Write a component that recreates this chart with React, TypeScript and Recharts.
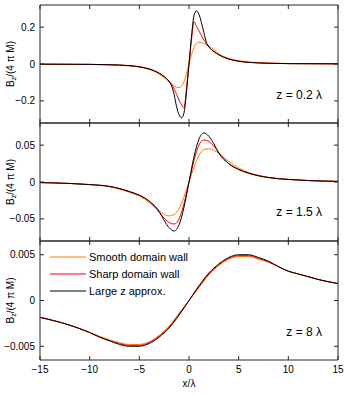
import React from 'react';
import { LineChart, Line, XAxis, YAxis } from 'recharts';

// x/λ ticks shared by all three panels
const X_TICKS = [-15, -10, -5, 0, 5, 10, 15];

// panel 1: z = 0.2 λ
const x1 = [-15, -12, -10, -8, -6, -5, -4, -3, -2.5, -2, -1.75, -1.5, -1.25, -1, -0.75, -0.5, -0.25, 0, 0.25, 0.5, 0.75, 1, 1.25, 1.5, 1.75, 2, 2.5, 3, 4, 5, 6, 8, 10, 12, 15];
const smooth1 = [-0.001, -0.0017, -0.0025, -0.005, -0.01, -0.017, -0.03, -0.055, -0.075, -0.098, -0.11, -0.12, -0.126, -0.128, -0.12, -0.095, -0.052, 0, 0.05, 0.09, 0.112, 0.118, 0.116, 0.112, 0.105, 0.098, 0.078, 0.056, 0.031, 0.018, 0.011, 0.005, 0.0025, 0.0017, 0.001];
const sharp1 = [-0.001, -0.0015, -0.002, -0.004, -0.009, -0.015, -0.027, -0.05, -0.068, -0.093, -0.11, -0.135, -0.165, -0.195, -0.222, -0.238, -0.13, 0, 0.13, 0.23, 0.205, 0.18, 0.155, 0.13, 0.11, 0.093, 0.068, 0.05, 0.027, 0.015, 0.009, 0.004, 0.002, 0.0015, 0.001];
const approx1 = [-0.001, -0.0015, -0.002, -0.004, -0.009, -0.015, -0.027, -0.05, -0.068, -0.095, -0.12, -0.165, -0.232, -0.275, -0.292, -0.265, -0.15, 0, 0.15, 0.262, 0.288, 0.27, 0.225, 0.17, 0.118, 0.093, 0.068, 0.05, 0.027, 0.015, 0.009, 0.004, 0.002, 0.0015, 0.001];

// panel 2: z = 1.5 λ
const x2 = [-15, -12, -10, -8, -6, -5, -4, -3, -2.5, -2, -1.5, -1, -0.5, 0, 0.5, 1, 1.5, 2, 2.5, 3, 4, 5, 6, 8, 10, 12, 15];
const smooth2 = [-0.0008, -0.002, -0.0035, -0.0065, -0.014, -0.019, -0.028, -0.039, -0.044, -0.046, -0.044, -0.036, -0.02, 0, 0.02, 0.036, 0.044, 0.045, 0.043, 0.039, 0.028, 0.019, 0.013, 0.0065, 0.0035, 0.002, 0.0008];
const sharp2 = [-0.0008, -0.002, -0.0035, -0.006, -0.013, -0.018, -0.026, -0.041, -0.049, -0.055, -0.057, -0.05, -0.029, 0, 0.029, 0.05, 0.057, 0.055, 0.049, 0.04, 0.025, 0.017, 0.012, 0.006, 0.0035, 0.002, 0.0008];
const approx2 = [-0.0008, -0.002, -0.0035, -0.006, -0.013, -0.018, -0.026, -0.04, -0.052, -0.062, -0.0665, -0.058, -0.034, 0, 0.034, 0.058, 0.0665, 0.062, 0.052, 0.039, 0.025, 0.017, 0.012, 0.006, 0.0035, 0.002, 0.0008];

// panel 3: z = 8 λ
const x3 = [-15, -12, -10, -9, -8, -7, -6, -5, -4, -3, -2, -1, 0, 1, 2, 3, 4, 5, 6, 7, 8, 9, 10, 11, 12, 13, 15];
const smooth3 = [-0.00184, -0.0027, -0.0035, -0.0039, -0.0043, -0.0046, -0.0048, -0.0048, -0.0045, -0.0038, -0.0028, -0.0014, 0, 0.0014, 0.0028, 0.0038, 0.0045, 0.0048, 0.0048, 0.0045, 0.0042, 0.0037, 0.0032, 0.0029, 0.0026, 0.0023, 0.00185];
const sharp3 = [-0.00184, -0.0027, -0.0035, -0.004, -0.0044, -0.0047, -0.0049, -0.0049, -0.0046, -0.0039, -0.0029, -0.0015, 0, 0.0015, 0.0029, 0.0039, 0.0046, 0.0049, 0.0049, 0.0046, 0.0042, 0.0037, 0.0032, 0.0029, 0.0026, 0.0023, 0.00185];
const approx3 = [-0.00184, -0.0027, -0.0035, -0.004, -0.0044, -0.0048, -0.005, -0.005, -0.0047, -0.004, -0.003, -0.0016, 0, 0.0016, 0.003, 0.004, 0.0047, 0.005, 0.005, 0.0047, 0.0043, 0.0037, 0.0032, 0.0029, 0.0026, 0.0023, 0.00185];

const SERIES = [
  { key: 'smooth', name: 'Smooth domain wall', color: '#ff8000' },
  { key: 'sharp', name: 'Sharp domain wall', color: '#ff0000' },
  { key: 'approx', name: 'Large z approx.', color: '#000000' },
];

const rows = (xs: number[], s: number[], r: number[], a: number[]) =>
  xs.map((x, i) => ({ x, smooth: s[i], sharp: r[i], approx: a[i] }));

const W = 350;
const H = 395;
const FONT = '"Liberation Sans", Arial, Helvetica, sans-serif';
const AXIS = '#262626';

const fmt = (v: number) => (v < 0 ? '\u2212' + String(-v) : String(v));
const blank = () => '';

const YLabel = (props: any) => {
  const vb = props.viewBox || {};
  const cx = 10;
  const cy = (vb.y || 0) + (vb.height || 0) / 2;
  return (
    <text x={cx} y={cy} transform={`rotate(-90 ${cx} ${cy})`} textAnchor="middle" dominantBaseline="central"
      fontSize={10} fontFamily={FONT} fill="#000">
      B<tspan fontSize={7} dy={3}>z</tspan><tspan dy={-3}>/(4 π M)</tspan>
    </text>
  );
};

interface PanelProps {
  data: any[];
  yDomain: [number, number];
  yTicks: number[];
  top: number;    // plot top in px
  bottom: number; // plot bottom in px
  showX?: boolean;
}

const Panel: React.FC<PanelProps> = ({ data, yDomain, yTicks, top, bottom, showX }) => {
  const xh = showX ? 35 : 1;
  return (
    <div style={{ position: 'absolute', left: 0, top: 0 }}>
      <LineChart width={W} height={H} data={data} margin={{ top: top - 1, right: 11, bottom: H - bottom - xh, left: 0 }}>
        <XAxis xAxisId="b" dataKey="x" type="number" domain={[-15, 15]} ticks={X_TICKS} allowDataOverflow
          height={xh} tickSize={-4} tickMargin={showX ? 10 : 0}
          tickFormatter={showX ? fmt : blank} stroke={AXIS}
          tick={{ fill: '#000', fontSize: 10, fontFamily: FONT }}
          label={showX ? { value: 'x/λ', position: 'insideBottom', offset: 8, fill: '#000', fontSize: 10, fontFamily: FONT } : undefined} />
        <XAxis xAxisId="t" orientation="top" dataKey="x" type="number" domain={[-15, 15]} ticks={X_TICKS} allowDataOverflow
          height={1} tickSize={-4} tickFormatter={blank} stroke={AXIS} />
        <YAxis yAxisId="l" type="number" domain={yDomain} ticks={yTicks} allowDataOverflow width={40}
          tickSize={-4} tickMargin={9} tickFormatter={fmt} stroke={AXIS}
          tick={{ fill: '#000', fontSize: 10, fontFamily: FONT }} label={YLabel} />
        <YAxis yAxisId="r" orientation="right" type="number" domain={yDomain} ticks={yTicks} allowDataOverflow width={1}
          tickSize={-4} tickFormatter={blank} stroke={AXIS} />
        {SERIES.map((s) => (
          <Line key={s.key} xAxisId="b" yAxisId="l" type="monotone" dataKey={s.key} name={s.name}
            stroke={s.color} strokeWidth={1} dot={false} isAnimationActive={false} />
        ))}
      </LineChart>
    </div>
  );
};

const Note: React.FC<{ text: string; cy: number }> = ({ text, cy }) => (
  <div style={{ position: 'absolute', right: 350 - 322, top: cy - 7, lineHeight: '14px', fontSize: 12, fontFamily: FONT, whiteSpace: 'nowrap' }}>
    {text}
  </div>
);

export default function App() {
  return (
    <div style={{ position: 'relative', width: W, height: H, background: '#fff' }}>
      <style>{'body{margin:0}'}</style>
      <Panel data={rows(x1, smooth1, sharp1, approx1)} yDomain={[-0.32, 0.32]} yTicks={[-0.2, 0, 0.2]} top={5} bottom={123} />
      <Panel data={rows(x2, smooth2, sharp2, approx2)} yDomain={[-0.08, 0.08]} yTicks={[-0.05, 0, 0.05]} top={123} bottom={241} />
      <Panel data={rows(x3, smooth3, sharp3, approx3)} yDomain={[-0.0065, 0.0065]} yTicks={[-0.005, 0, 0.005]} top={241} bottom={360} showX />
      <Note text="z = 0.2 λ" cy={95} />
      <Note text="z = 1.5 λ" cy={212} />
      <Note text="z = 8 λ" cy={332} />
      <div style={{ position: 'absolute', left: 50, top: 248, fontSize: 11, fontFamily: FONT }}>
        {SERIES.map((s) => (
          <div key={s.key} style={{ display: 'flex', alignItems: 'center', height: 17 }}>
            <svg width={36} height={4} style={{ display: 'block' }}>
              <line x1={0} x2={36} y1={2} y2={2} stroke={s.color} strokeWidth={1} />
            </svg>
            <span style={{ marginLeft: 3 }}>{s.name}</span>
          </div>
        ))}
      </div>
    </div>
  );
}
